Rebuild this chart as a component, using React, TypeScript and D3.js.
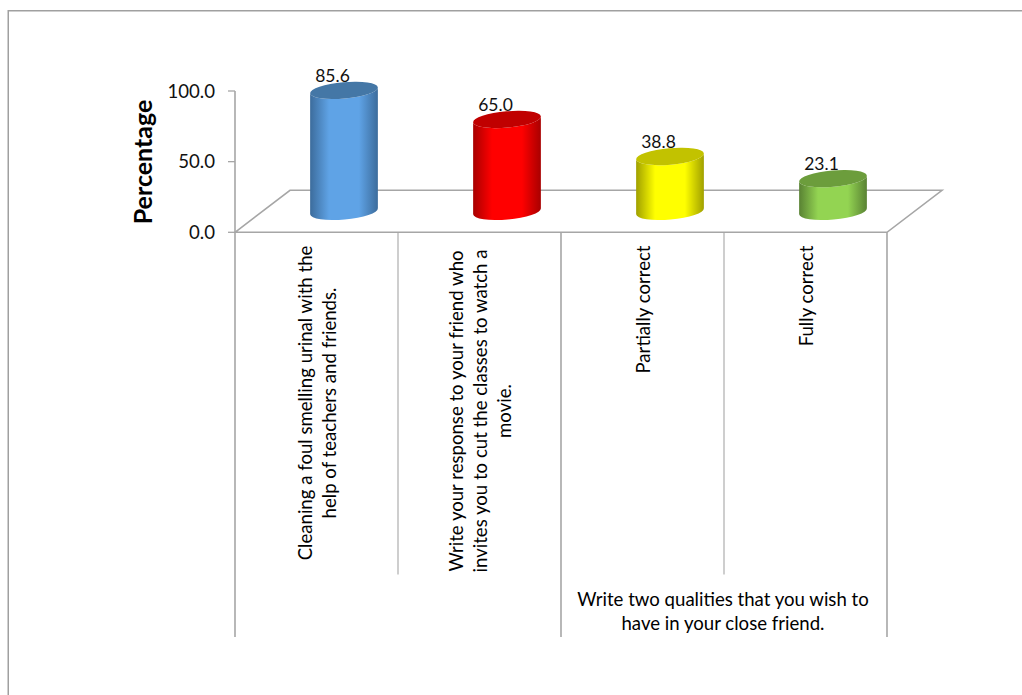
import React from "react";
import * as d3 from "d3";

const categories = [
  ["Cleaning a foul smelling urinal with the", "help of teachers and friends."],
  ["Write your response to your friend who", "invites you to cut the classes to watch a", "movie."],
  ["Partially correct"],
  ["Fully correct"],
];
const values = [85.6, 65.0, 38.8, 23.1];
const bodyColors = ["#5fa3e6", "#ff0000", "#ffff00", "#93d452"];
const edgeColors = ["#3c6c9c", "#a80000", "#a0a000", "#598233"];
const capColors = ["#4477a6", "#c00000", "#c2c200", "#6c9d3c"];
const yTicks = [0, 50, 100];
const groupLabel = ["Write two qualities that you wish to", "have in your close friend."];

// vertical midpoints of the rotated category labels
const labelMidY = [403, 411, 309.5, 296];

const FONT = "Lato, Carlito, sans-serif";
const GRID = "#a6a6a6";

const y = d3.scaleLinear().domain([0, 100]).range([232.3, 91]);
const x = d3.scaleBand<number>().domain(d3.range(categories.length)).range([235, 887]);

const depthX = 55;
const depthY = 42;
const rx = 34;
const ry = 8.2;
const tilt = 5;

function cylinderBody(cx: number, top: number, bottom: number) {
  const a = (tilt * Math.PI) / 180;
  const dx = rx * Math.cos(a);
  const dy = rx * Math.sin(a);
  const p = d3.path();
  p.moveTo(cx - dx, top + dy);
  p.lineTo(cx - dx, bottom + dy);
  const arc = `A${rx} ${ry} ${-tilt} 0 0 ${cx + dx} ${bottom - dy}`;
  return `${p.toString()}${arc}L${cx + dx} ${top - dy}A${rx} ${ry} ${-tilt} 0 1 ${cx - dx} ${top + dy}Z`;
}

export default function App() {
  return (
    <svg
      width={1022}
      height={695}
      style={{ position: "absolute", left: 0, top: 0, background: "#fff" }}
      fontFamily={FONT}
    >
      <defs>
        {values.map((_, i) => (
          <linearGradient key={i} id={`cyl${i}`} x1="0" x2="1" y1="0" y2="0">
            <stop offset="0" stopColor={edgeColors[i]} />
            <stop offset="0.28" stopColor={bodyColors[i]} />
            <stop offset="0.72" stopColor={bodyColors[i]} />
            <stop offset="1" stopColor={edgeColors[i]} />
          </linearGradient>
        ))}
      </defs>

      {/* outer chart frame */}
      <path d="M1022 10.75H8.25V695" fill="none" stroke="#a0a0a0" strokeWidth={1.5} />

      {/* floor */}
      <path
        d={`M235 ${y(0)}L${235 + depthX} ${y(0) - depthY}H${887 + depthX}L887 ${y(0)}Z`}
        fill="none"
        stroke={GRID}
        strokeWidth={1.6}
      />

      {/* value axis */}
      <line x1={235} x2={235} y1={y(100)} y2={y(0)} stroke={GRID} strokeWidth={1.6} />
      {yTicks.map((t) => (
        <g key={t}>
          <line x1={228} x2={235} y1={y(t)} y2={y(t)} stroke={GRID} strokeWidth={1.3} />
          <text x={215} y={y(t)} dy="0.36em" textAnchor="end" fontSize={18.6} fill="#111">
            {t.toFixed(1)}
          </text>
        </g>
      ))}
      <text
        transform="translate(152,162) rotate(-90)"
        textAnchor="middle"
        fontSize={25}
        fontWeight={700}
        fill="#000"
      >
        Percentage
      </text>

      {/* multi-level category separators */}
      {d3.range(categories.length + 1).map((i) => {
        const px = 235 + i * x.bandwidth();
        const outer = i % 2 === 0;
        return (
          <line
            key={i}
            x1={px}
            x2={px}
            y1={y(0)}
            y2={outer ? 637 : 574.5}
            stroke={GRID}
            strokeWidth={outer ? 1.6 : 1.1}
          />
        );
      })}

      {/* cylinders */}
      {values.map((v, i) => {
        const cx = (x(i) as number) + x.bandwidth() / 2 + depthX / 2;
        const top = y(v) - depthY / 2;
        const bottom = y(0) - depthY / 2;
        return (
          <g key={i}>
            <path d={cylinderBody(cx, top, bottom)} fill={`url(#cyl${i})`} />
            <ellipse
              cx={cx}
              cy={top}
              rx={rx}
              ry={ry}
              fill={capColors[i]}
              transform={`rotate(${-tilt} ${cx} ${top})`}
            />
            <text x={cx - 11.5} y={top - 8.5} textAnchor="middle" fontSize={17.5} fill="#111">
              {v.toFixed(1)}
            </text>
          </g>
        );
      })}

      {/* rotated category labels */}
      {categories.map((lines, i) => {
        const cx = (x(i) as number) + x.bandwidth() / 2;
        return (
          <text
            key={i}
            transform={`translate(${cx},${labelMidY[i]}) rotate(-90)`}
            textAnchor="middle"
            fontSize={18.6}
            fill="#000"
          >
            {lines.map((l, j) => (
              <tspan key={j} x={0} y={(j - (lines.length - 1) / 2) * 24 + 7}>
                {l}
              </tspan>
            ))}
          </text>
        );
      })}

      {/* second-level group label */}
      <text textAnchor="middle" fontSize={18.6} fill="#000">
        {groupLabel.map((l, j) => (
          <tspan key={j} x={723} y={606 + j * 24}>
            {l}
          </tspan>
        ))}
      </text>
    </svg>
  );
}
